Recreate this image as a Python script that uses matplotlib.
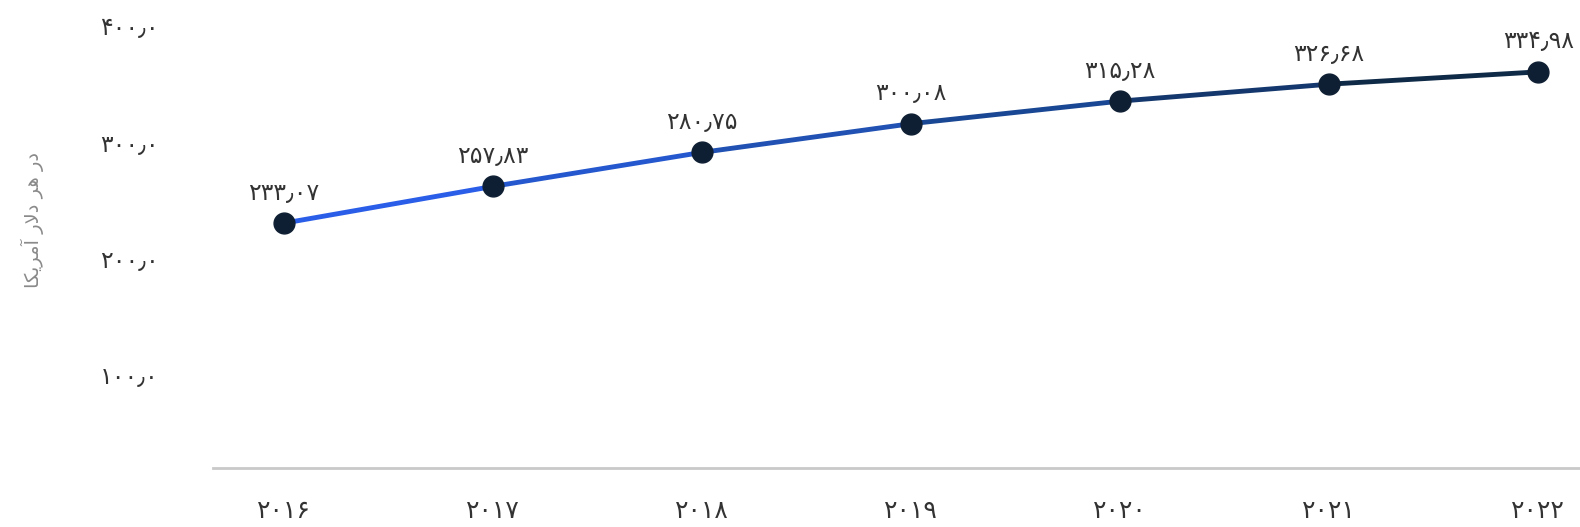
import matplotlib
matplotlib.use('Agg')
import matplotlib.pyplot as plt
from matplotlib.collections import LineCollection
from matplotlib.colors import LinearSegmentedColormap
import numpy as np

# Data
years = [2016, 2017, 2018, 2019, 2020, 2021, 2022]
values = [233.07, 257.83, 280.75, 300.08, 315.28, 326.68, 334.98]
y_ticks = [100, 200, 300, 400]

# Persian digits and decimal separator
fa_digits = str.maketrans('0123456789.', '۰۱۲۳۴۵۶۷۸۹٫')

def fa(text):
    return text.translate(fa_digits)

# y axis title "در هر دلار آمریکا" in presentation forms (logical order), reversed for display
title_logical = ['\uFEA9', '\uFEAD', ' ',
                 '\uFEEB', '\uFEAE', ' ',
                 '\uFEA9', '\uFEFB', '\uFEAD', ' ',
                 '\uFE81', '\uFEE3', '\uFEAE', '\uFBFE', '\uFB91', '\uFE8E']
y_title = ''.join(reversed(title_logical))

plt.rcParams['font.family'] = ['DejaVu Sans']

fig = plt.figure(figsize=(15.8, 5.27), dpi=100)
ax = fig.add_axes([213 / 1580, 59 / 527, 1 - 213 / 1580, 1 - 59 / 527])
ax.set_xlim(-0.34, 6.20)
ax.set_ylim(19.8, 422.2)
ax.set_yticks(y_ticks)
ax.set_yticklabels([fa(f'{t:.1f}') for t in y_ticks])
ax.set_xticks(range(len(years)))
ax.set_xticklabels([fa(str(y)) for y in years])
for s in ['top', 'right', 'left']:
    ax.spines[s].set_visible(False)
ax.spines['bottom'].set_color('#c9c9c9')
ax.spines['bottom'].set_linewidth(2)
ax.tick_params(axis='y', length=0, pad=39, labelsize=17, labelcolor='#333333')
ax.tick_params(axis='x', length=0, pad=22, labelsize=18, labelcolor='#333333')

# line on its own scale
ax2 = ax.twinx()
ax2.set_ylim(68.1, 383.4)
ax2.axis('off')

x = np.arange(len(years))
pts = np.column_stack([x, values])
segs = np.stack([pts[:-1], pts[1:]], axis=1)
cmap = LinearSegmentedColormap.from_list('g', ['#2b5ee8', '#1d4ea6', '#0e2a47'])
lc = LineCollection(segs, colors=cmap(np.linspace(0, 1, len(segs))), linewidths=3.5,
                    capstyle='round', zorder=2)
ax2.add_collection(lc)
ax2.plot(x, values, 'o', color='#0f1f33', markersize=15, zorder=3)

for xi, v in zip(x, values):
    ax2.annotate(fa(f'{v:.2f}'), (xi, v), xytext=(0, 22), textcoords='offset points',
                 ha='center', va='center', fontsize=17, color='#333333', clip_on=False)

fig.text(32 / 1580, 1 - 220 / 527, y_title, rotation=90, ha='center', va='center',
         fontsize=14, color='#8a8a8a')

fig.savefig('out.png', dpi=100, facecolor='white')
